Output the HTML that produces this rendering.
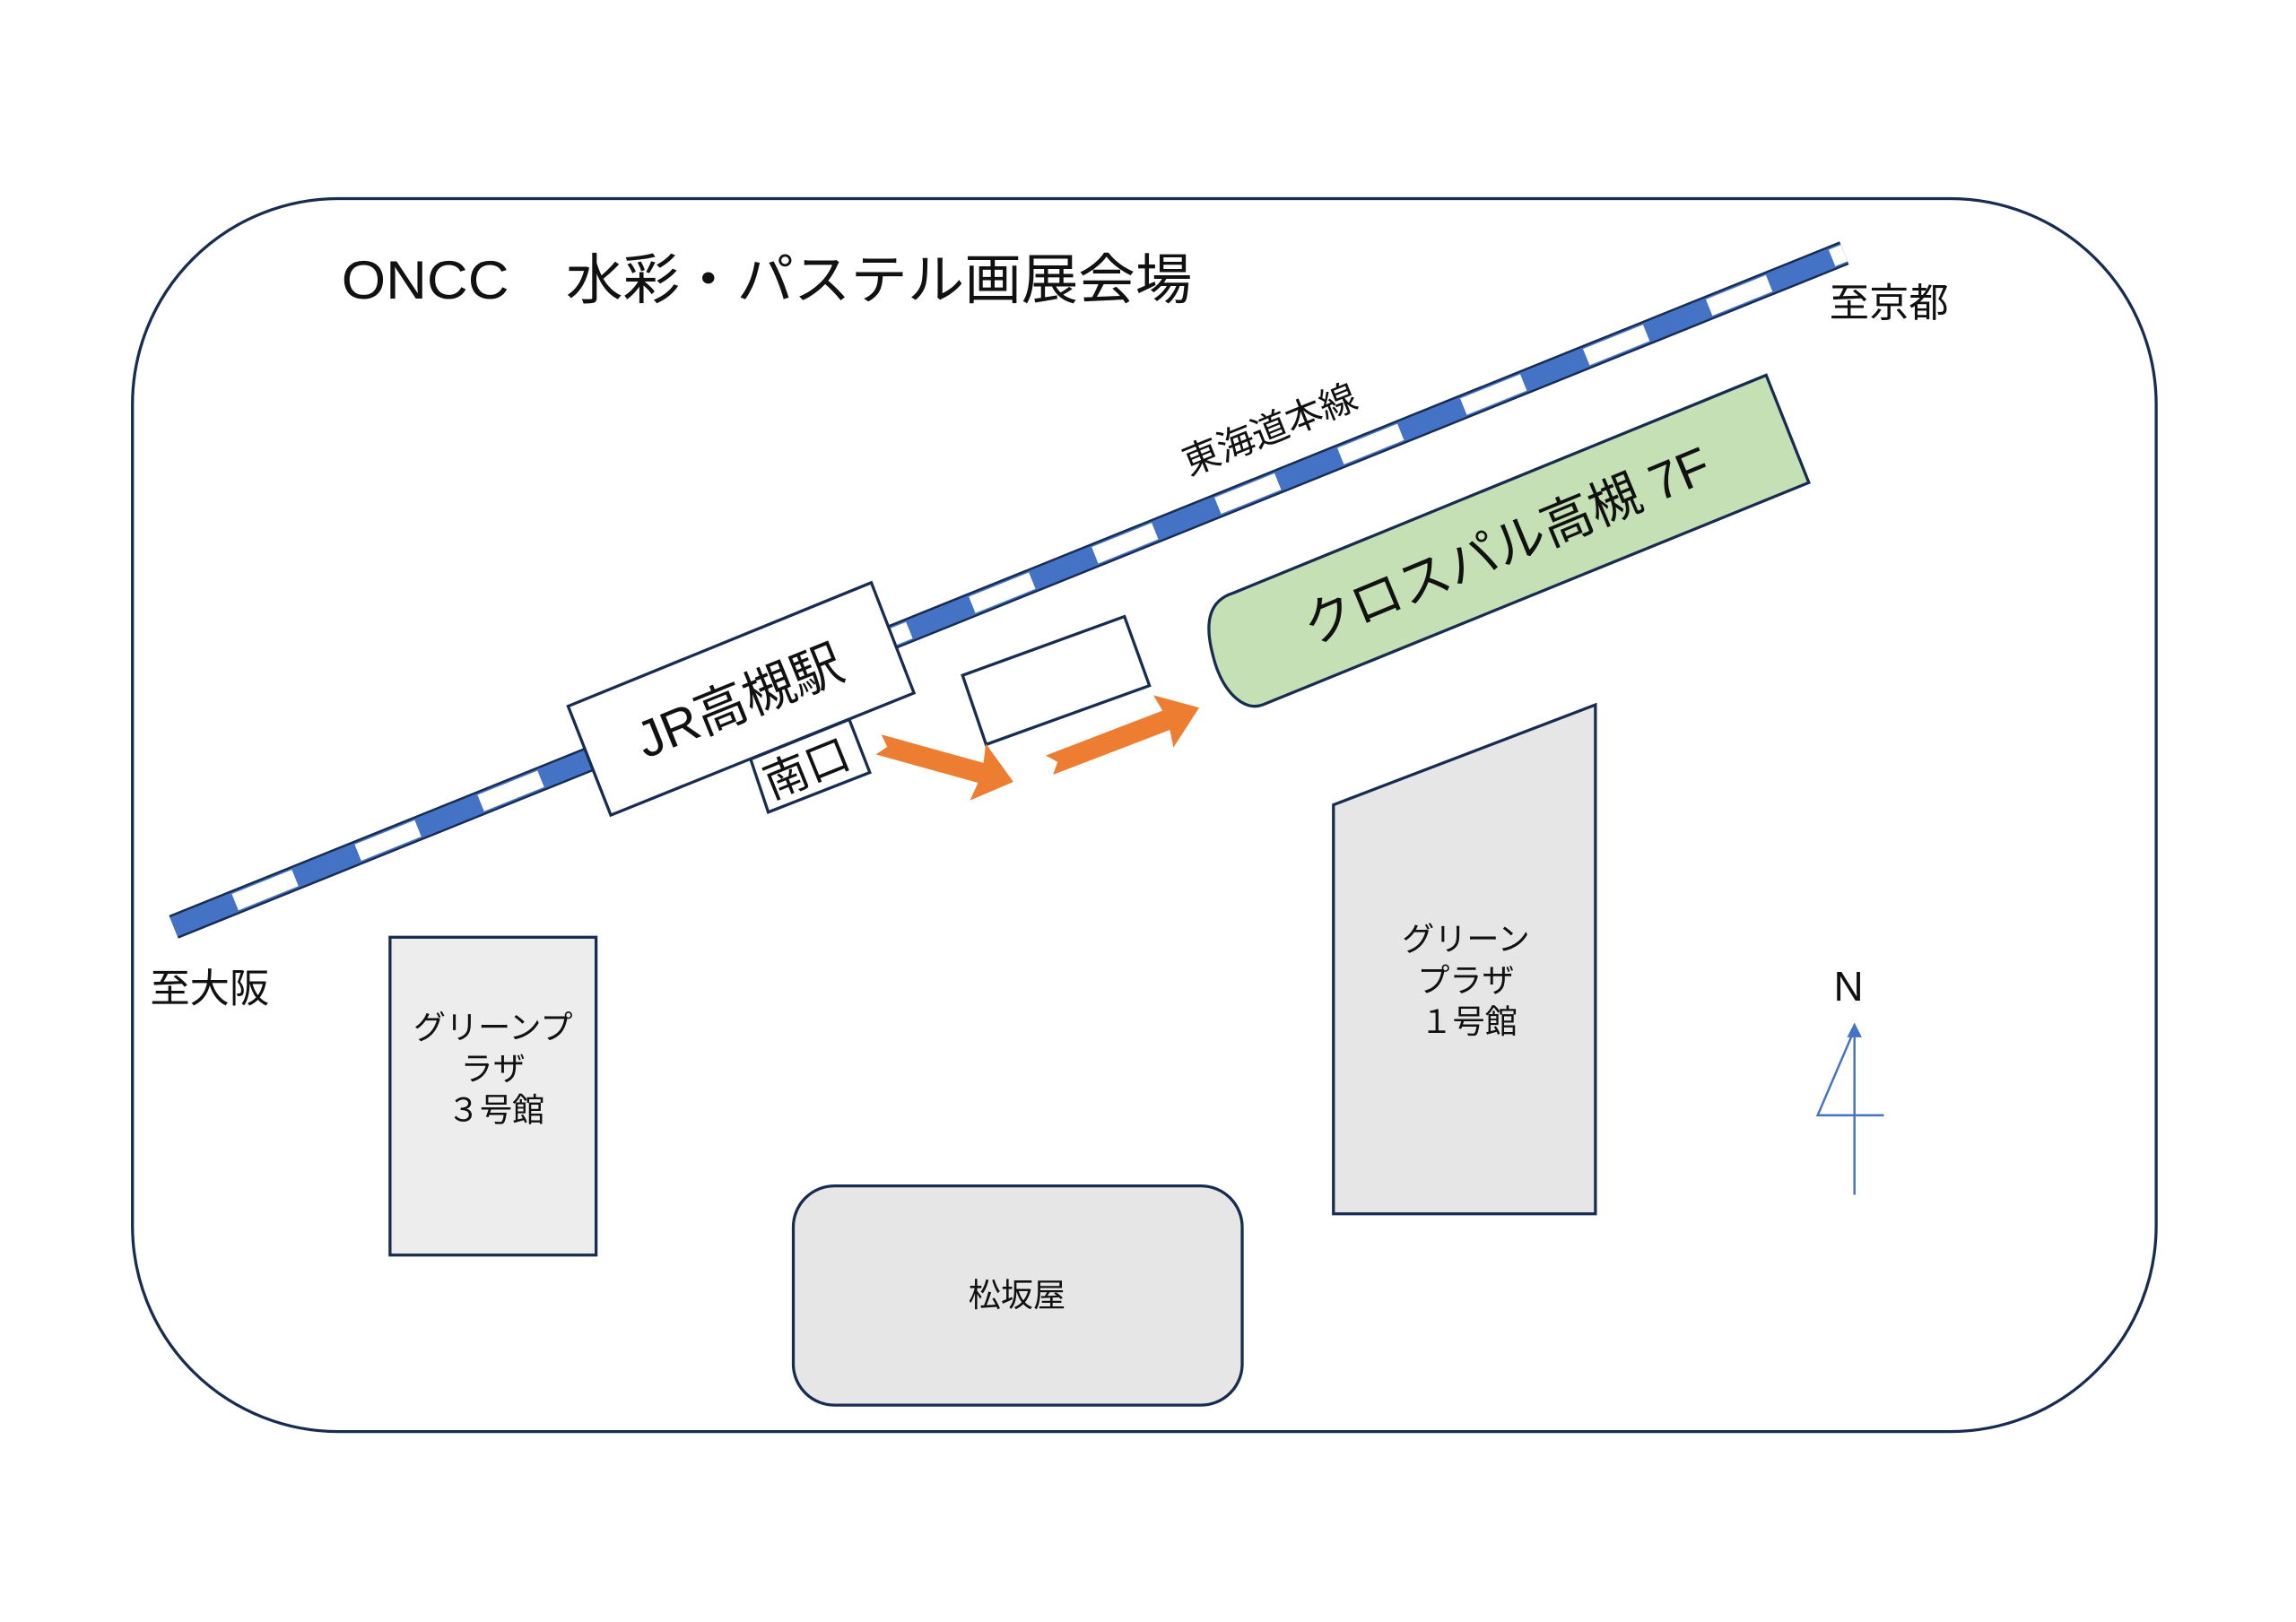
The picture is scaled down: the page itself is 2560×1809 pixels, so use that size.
<!DOCTYPE html>
<html><head><meta charset="utf-8"><style>
html,body{margin:0;padding:0;background:#fff;}
svg{display:block;}
text{font-family:"Liberation Sans","Noto Sans CJK JP",sans-serif;fill:#111;}
</style></head><body>
<svg width="2560" height="1809" viewBox="0 0 1560 1102.4" preserveAspectRatio="none" xmlns="http://www.w3.org/2000/svg">
<rect x="0" y="0" width="1560" height="1102.4" fill="#fff"/>
<rect x="90" y="135" width="1375" height="838" rx="140" ry="140" fill="#fff" stroke="#172c51" stroke-width="2"/>
<text x="232" y="203" font-size="37" textLength="578" lengthAdjust="spacingAndGlyphs">ONCC　水彩・パステル画展会場</text>
<!-- rail -->
<line x1="118" y1="630" x2="1253" y2="172" stroke="#172c51" stroke-width="17"/>
<line x1="118" y1="630" x2="1253" y2="172" stroke="#4472c4" stroke-width="14"/>
<line x1="118" y1="630" x2="1253" y2="172" stroke="#fff" stroke-width="12" stroke-dasharray="44 46" stroke-dashoffset="45"/>
<text x="1243" y="215" font-size="27">至京都</text>
<text x="102" y="681" font-size="27">至大阪</text>
<text transform="translate(866,300) rotate(-22)" text-anchor="middle" font-size="25">東海道本線</text>
<!-- station -->
<polygon points="386,480 592,396 621,471 415,554" fill="#fff" stroke="#172c51" stroke-width="2"/>
<text transform="translate(507,488) rotate(-22)" text-anchor="middle" font-size="35">JR高槻駅</text>
<polygon points="510,516 577,489 591,525 522,552" fill="#fff" stroke="#172c51" stroke-width="2"/>
<text transform="translate(552,532) rotate(-22)" text-anchor="middle" font-size="30">南口</text>
<polygon points="654,459 764,419 781,466 670,506" fill="#fff" stroke="#172c51" stroke-width="2"/>
<!-- arrows -->
<g transform="translate(597,506) rotate(15.5)" fill="#ed7d31">
<polygon points="0,-7 72,-7 70,-20 95,0 70,20 72,7 0,7 6,0"/>
</g>
<g transform="translate(713,520) rotate(-21)" fill="#ed7d31">
<polygon points="0,-7 85,-7 83,-19 109,0 83,19 85,7 0,7 6,0"/>
</g>
<!-- crosspal -->
<path d="M838,403 L1200,255 L1229,328 L858,479 C845,484 830,470 824,445 C818,422 822,408 838,403 Z" fill="#c5e0b4" stroke="#172c51" stroke-width="2"/>
<text transform="translate(1028,382) rotate(-22.5)" text-anchor="middle" font-size="35">クロスパル高槻 7F</text>
<!-- plaza 3 -->
<rect x="265" y="637" width="140" height="216" fill="#ededed" stroke="#172c51" stroke-width="2"/>
<text x="335" y="706" text-anchor="middle" font-size="22">グリーンプ</text>
<text x="335" y="734" text-anchor="middle" font-size="22">ラザ</text>
<text x="337" y="762" text-anchor="middle" font-size="22">３号館</text>
<!-- plaza 1 -->
<polygon points="906,547 1084,479 1084,825 906,825" fill="#e7e6e6" stroke="#172c51" stroke-width="2"/>
<text x="996" y="646" text-anchor="middle" font-size="22">グリーン</text>
<text x="996" y="674" text-anchor="middle" font-size="22">プラザ</text>
<text x="998" y="702" text-anchor="middle" font-size="22">１号館</text>
<!-- matsuzakaya -->
<rect x="539" y="806" width="305" height="149" rx="28" ry="28" fill="#e7e6e6" stroke="#172c51" stroke-width="2"/>
<text x="691" y="888" text-anchor="middle" font-size="22">松坂屋</text>
<!-- compass -->
<text x="1256" y="680" text-anchor="middle" font-size="28">N</text>
<line x1="1260" y1="812" x2="1260" y2="703" stroke="#4472c4" stroke-width="1.5"/>
<polygon points="1260,695 1255,705 1265,705" fill="#4472c4"/>
<polyline points="1259,702 1235,758 1280,758" fill="none" stroke="#4472c4" stroke-width="1.5"/>
</svg>
</body></html>
